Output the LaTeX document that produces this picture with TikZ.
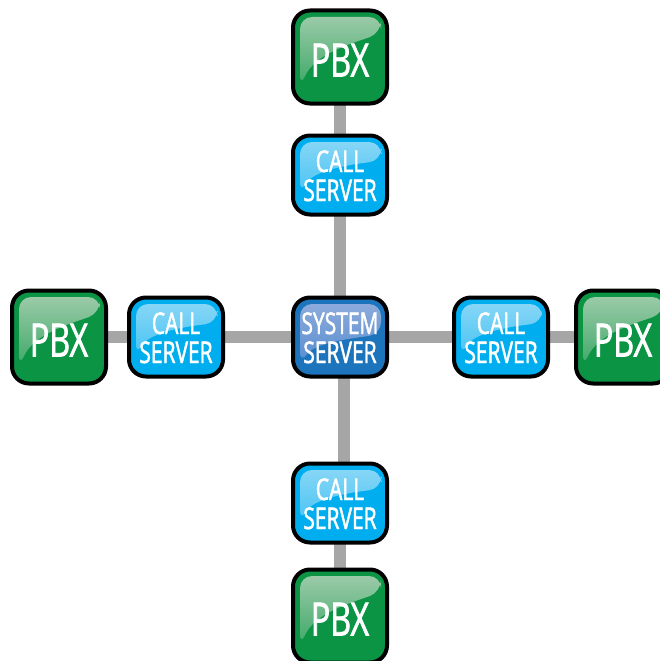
\documentclass[tikz,border=0pt]{standalone}
\usepackage{fontspec}
\setmainfont{Open Sans}[FakeStretch=0.7,FakeBold=1.5]
\newcommand{\oneline}[1]{\makebox[0pt]{\fontsize{46pt}{46pt}\selectfont\raisebox{-19.5pt}[0pt][0pt]{#1}}}
\newcommand{\twolines}[2]{\makebox[0pt]{\fontsize{30pt}{30pt}\selectfont\raisebox{3pt}[0pt][0pt]{#1}}\makebox[0pt]{\fontsize{30pt}{30pt}\selectfont\raisebox{-26pt}[0pt][0pt]{#2}}}
\definecolor{pbxfill}{HTML}{0B9444}
\definecolor{pbxtop}{HTML}{A3CDAE}
\definecolor{pbxlow}{HTML}{26A057}
\definecolor{callfill}{HTML}{00AEEF}
\definecolor{calltop}{HTML}{8ED8F6}
\definecolor{calllow}{HTML}{2DBCF2}
\definecolor{sysfill}{HTML}{1C75BC}
\definecolor{systop}{HTML}{93AEDD}
\definecolor{syslow}{HTML}{4A86CC}
\definecolor{wire}{HTML}{A6A6A6}
\tikzset{
  x=1pt,y=-1pt,
  wirepath/.style={draw=wire,line width=12pt},
  unit/.style={draw=black,line width=4pt,rounded corners=17pt,outer sep=0pt,inner sep=0pt,text=white},
  pbxbox/.style={unit,fill=pbxfill,minimum width=94pt,minimum height=93pt,
    path picture={\shade[top color=pbxtop,bottom color=pbxlow,rounded corners=12pt]
      (-40,-40) -- (41,-40) -- (41,-24) .. controls (13.5,-14) and (-24.5,-4) .. (-40,30) -- cycle;}},
  callbox/.style={unit,fill=callfill,minimum width=94pt,minimum height=79pt,
    path picture={\shade[top color=calltop,bottom color=calllow,rounded corners=12pt]
      (-40,-33) -- (41,-33) -- (41,-14) .. controls (13.5,-11) and (-26.5,-5) .. (-40,19) -- cycle;}},
  sysbox/.style={unit,fill=sysfill,minimum width=94pt,minimum height=79pt,
    path picture={\shade[top color=systop,bottom color=syslow,rounded corners=12pt]
      (-40,-33) -- (41,-33) -- (41,-3) .. controls (15.5,1) and (-24.5,5) .. (-40,27) -- cycle;}}
}
\begin{document}
\begin{tikzpicture}
\useasboundingbox (0,0) rectangle (660,661);
\clip (0,0) rectangle (660,661);
% connectors are drawn first, so that they run behind the boxes
\coordinate (sysc) at (340,337);
\coordinate (pbxTc) at (340,57);
\coordinate (callTc) at (340,175);
\coordinate (callLc) at (176,337);
\coordinate (pbxLc) at (59,337);
\coordinate (callRc) at (501,337);
\coordinate (pbxRc) at (623,337);
\coordinate (callBc) at (340,503);
\coordinate (pbxBc) at (340,616);
\path[wirepath] (pbxTc) -- (callTc) -- (sysc);
\path[wirepath] (pbxLc) -- (callLc) -- (sysc);
\path[wirepath] (sysc) -- (callRc) -- (pbxRc);
\path[wirepath] ([xshift=4pt]sysc) -- ([xshift=4pt]callBc);
\path[wirepath] (callBc) -- (pbxBc);
\node[pbxbox] (pbxT) at (pbxTc) {\oneline{PBX}};
\node[callbox] (callT) at (callTc) {\twolines{CALL}{SERVER}};
\node[pbxbox] (pbxL) at (pbxLc) {\oneline{PBX}};
\node[callbox] (callL) at (callLc) {\twolines{CALL}{SERVER}};
\node[sysbox] (sys) at (sysc) {\twolines{SYSTEM}{SERVER}};
\node[callbox] (callR) at (callRc) {\twolines{CALL}{SERVER}};
\node[pbxbox] (pbxR) at (pbxRc) {\oneline{PBX}};
\node[callbox] (callB) at (callBc) {\twolines{CALL}{SERVER}};
\node[pbxbox] (pbxB) at (pbxBc) {\oneline{PBX}};
\end{tikzpicture}
\end{document}
